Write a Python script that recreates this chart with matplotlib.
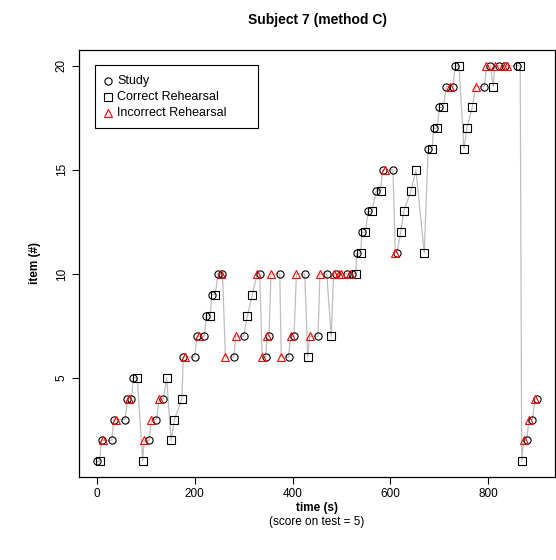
import matplotlib
matplotlib.use("Agg")
import matplotlib.pyplot as plt
from matplotlib.patches import Rectangle

plt.rcParams["font.family"] = ["Liberation Sans", "DejaVu Sans"]

# Event log for subject 7: time (s), item number, event kind
# S = study, C = correct rehearsal, I = incorrect rehearsal
time_s = [0, 6, 10, 13, 31, 35, 39, 58, 63, 67, 71, 75, 83, 94, 97, 107, 112, 122,
          128, 136, 143, 152, 159, 174, 177, 181, 200, 205, 209, 220, 224, 232, 235,
          242, 248, 253, 257, 263, 280, 284, 300, 308, 318, 328, 333, 338, 345, 348,
          352, 356, 374, 377, 392, 396, 403, 408, 425, 431, 435, 452, 456, 470, 479,
          484, 489, 494, 499, 511, 517, 521, 529, 531, 539, 542, 549, 554, 562, 571,
          580, 584, 588, 605, 610, 613, 621, 627, 642, 652, 669, 677, 685, 688, 695,
          700, 708, 714, 721, 728, 732, 740, 750, 756, 767, 774, 792, 796, 804, 810,
          813, 822, 829, 834, 838, 859, 865, 868, 872, 878, 883, 890, 895, 899]
item = [1, 1, 2, 2, 2, 3, 3, 3, 4, 4, 4, 5, 5, 1, 2, 2, 3, 3,
        4, 4, 5, 2, 3, 4, 6, 6, 6, 7, 7, 7, 8, 8, 9,
        9, 10, 10, 10, 6, 6, 7, 7, 8, 9, 10, 10, 6, 6, 7,
        7, 10, 10, 6, 6, 7, 7, 10, 10, 6, 7, 7, 10, 10, 7,
        10, 10, 10, 10, 10, 10, 10, 10, 11, 11, 12, 12, 13, 13, 14,
        14, 15, 15, 15, 11, 11, 12, 13, 14, 15, 11, 16, 16, 17, 17,
        18, 18, 19, 19, 19, 20, 20, 16, 17, 18, 19, 19, 20, 20, 19,
        20, 20, 20, 20, 20, 20, 20, 1, 2, 2, 3, 3, 4, 4]
kind = ["S", "C", "S", "I", "S", "S", "I", "S", "S", "I", "S", "S", "C", "C", "I", "S", "I", "S",
        "I", "S", "C", "C", "C", "C", "S", "I", "S", "S", "I", "S", "S", "C", "S",
        "C", "S", "I", "S", "I", "S", "I", "S", "C", "C", "I", "S", "I", "S", "I",
        "S", "I", "S", "I", "S", "I", "S", "I", "S", "C", "I", "S", "I", "S", "C",
        "I", "S", "I", "I", "S", "I", "S", "C", "S", "C", "S", "C", "S", "C", "S",
        "C", "S", "I", "S", "I", "S", "C", "C", "C", "C", "C", "S", "C", "S", "C",
        "S", "C", "S", "I", "S", "S", "C", "C", "C", "C", "I", "S", "I", "S", "C",
        "I", "S", "I", "S", "I", "S", "C", "C", "I", "S", "I", "S", "I", "S"]

test_score = 5

kinds = ["S", "C", "I"]
markers = {"S": "o", "C": "s", "I": "^"}
colors = {"S": "black", "C": "black", "I": "red"}
labels = {"S": "Study", "C": "Correct Rehearsal", "I": "Incorrect Rehearsal"}

W, H = 556, 560
fig = plt.figure(figsize=(W / 100, H / 100), dpi=100)
left, right, top, bottom = 79, 555, 50, 477
ax = fig.add_axes([left / W, 1 - bottom / H, (right - left) / W, (bottom - top) / H])

ax.plot(time_s, item, color="#bebebe", lw=0.9, zorder=1)
for k in kinds:
    xs = [t for t, kk in zip(time_s, kind) if kk == k]
    ys = [v for v, kk in zip(item, kind) if kk == k]
    ax.plot(xs, ys, linestyle="none", marker=markers[k], markersize=5.2,
            markerfacecolor="none", markeredgecolor=colors[k], markeredgewidth=0.8,
            zorder=2 + kinds.index(k))

# data range padded by 4% on each side
ax.set_xlim(-36, 936)
ax.set_ylim(0.24, 20.76)
ax.set_xticks([0, 200, 400, 600, 800])
ax.set_yticks([5, 10, 15, 20])
ax.tick_params(direction="out", length=5, width=0.8, labelsize=8.5, pad=3)
for lab in ax.get_yticklabels():
    lab.set_rotation(90)
    lab.set_va("center")
for sp in ax.spines.values():
    sp.set_linewidth(0.9)

cx = (left + right) / 2 / W
fig.text(cx, 1 - 20 / H, "Subject 7 (method C)", ha="center", va="center",
         fontsize=10, fontweight="bold")
fig.text(cx, 1 - 508 / H, "time (s)", ha="center", va="center",
         fontsize=8.5, fontweight="bold")
fig.text(cx, 1 - 522 / H, f"(score on test = {test_score})",
         ha="center", va="center", fontsize=8.5)
fig.text(35 / W, 1 - (top + bottom) / 2 / H, "item (#)", ha="center", va="center",
         rotation=90, fontsize=8.5, fontweight="bold")

# legend box in the upper left corner of the plot region
def fx(px):
    return px / W

def fy(py):
    return 1 - py / H

fig.patches.append(Rectangle((fx(95), fy(128)), fx(258) - fx(95), fy(65) - fy(128),
                             transform=fig.transFigure, fill=True, facecolor="white",
                             edgecolor="black", linewidth=0.8, zorder=5))
for i, k in enumerate(kinds):
    ry = 81 + 16 * i
    fig.add_artist(plt.Line2D([fx(108)], [fy(ry)], transform=fig.transFigure,
                              linestyle="none", marker=markers[k], markersize=5.2,
                              markerfacecolor="none", markeredgecolor=colors[k],
                              markeredgewidth=0.8, zorder=6))
    fig.text(fx(117), fy(ry), labels[k], ha="left", va="center", fontsize=9, zorder=6)

fig.savefig("out.png", dpi=100)
